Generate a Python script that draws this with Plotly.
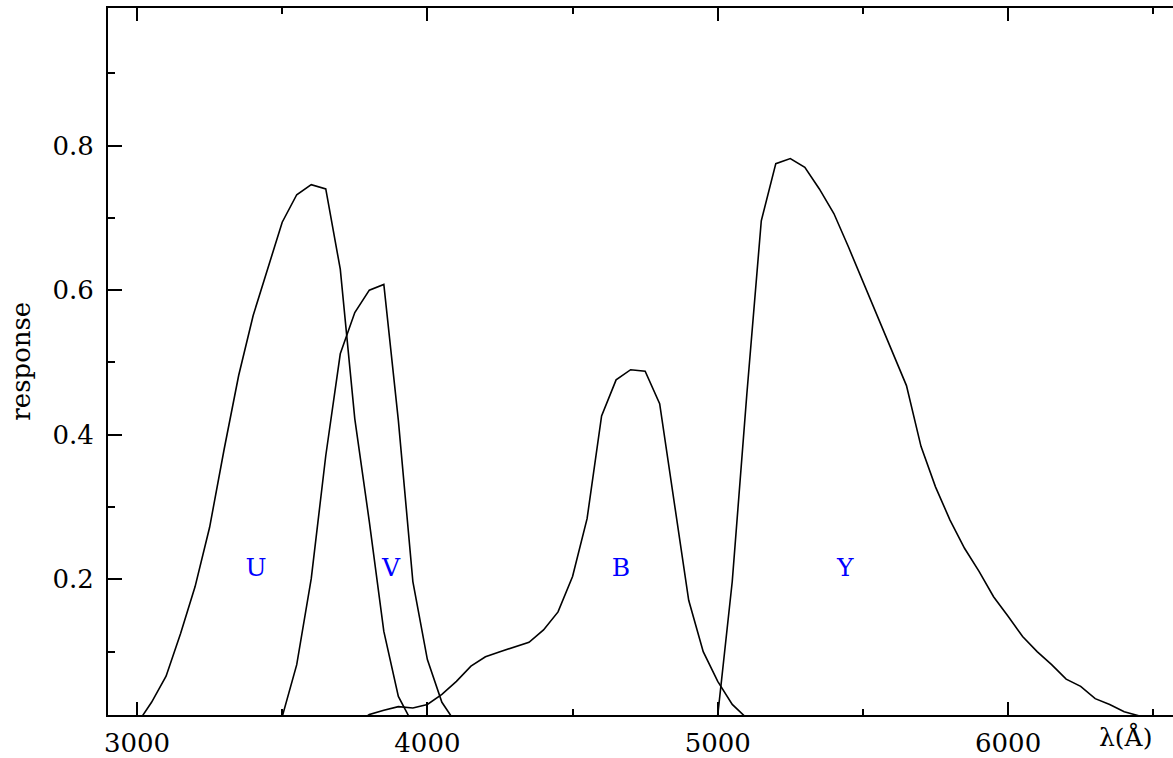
import plotly.graph_objects as go

# Filter response curves (wavelength in Angstrom, response)
wl_u = [3000, 3050, 3100, 3150, 3200, 3250, 3300, 3350, 3400, 3450,
        3500, 3550, 3600, 3650, 3700, 3750, 3800, 3850, 3900, 3950]
resp_u = [0.0, 0.03, 0.066, 0.125, 0.19, 0.272, 0.38, 0.482, 0.565, 0.63,
          0.694, 0.732, 0.746, 0.740, 0.629, 0.422, 0.280, 0.128, 0.038, 0.0]

wl_v = [3450, 3500, 3550, 3600, 3650, 3700, 3750, 3800, 3850, 3900,
        3950, 4000, 4050, 4100]
resp_v = [0.0, 0.01, 0.082, 0.201, 0.371, 0.512, 0.569, 0.600, 0.608, 0.42,
          0.197, 0.089, 0.03, 0.0]

wl_b = [3750, 3800, 3850, 3900, 3950, 4000, 4050, 4100, 4150, 4200,
        4250, 4300, 4350, 4400, 4450, 4500, 4550, 4600, 4650, 4700,
        4750, 4800, 4850, 4900, 4950, 5000, 5050, 5100, 5150]
resp_b = [0.0, 0.013, 0.019, 0.024, 0.022, 0.027, 0.041, 0.059, 0.080, 0.093,
          0.100, 0.106, 0.113, 0.130, 0.155, 0.204, 0.284, 0.426, 0.476, 0.490,
          0.488, 0.443, 0.31, 0.171, 0.100, 0.059, 0.027, 0.008, 0.0]

wl_y = [4950, 5000, 5050, 5100, 5150, 5200, 5250, 5300, 5350, 5400,
        5450, 5500, 5550, 5600, 5650, 5700, 5750, 5800, 5850, 5900,
        5950, 6000, 6050, 6100, 6150, 6200, 6250, 6300, 6350, 6400,
        6450, 6500, 6550]
resp_y = [0.0, 0.012, 0.197, 0.455, 0.696, 0.775, 0.782, 0.770, 0.740, 0.706,
          0.66, 0.612, 0.564, 0.517, 0.468, 0.384, 0.328, 0.282, 0.243, 0.211,
          0.176, 0.149, 0.121, 0.100, 0.082, 0.062, 0.052, 0.035, 0.027, 0.017,
          0.011, 0.005, 0.0]

# Band names and where their labels sit
band_names = ["U", "V", "B", "Y"]
band_label_x = [3410, 3875, 4667, 5439]
band_label_y = [0.213, 0.213, 0.213, 0.213]

x_tick_vals = [3000, 4000, 5000, 6000]
x_tick_text = ["3000", "4000", "5000", "6000"]
y_tick_vals = [0.2, 0.4, 0.6, 0.8]
y_tick_text = ["0.2", "0.4", "0.6", "0.8"]

FONT = "DejaVu Serif"
X_RANGE = [2900, 6568]
Y_RANGE = [0.0124, 0.9903]

fig = go.Figure()
for wl, resp in [(wl_u, resp_u), (wl_v, resp_v), (wl_b, resp_b), (wl_y, resp_y)]:
    fig.add_trace(go.Scatter(x=wl, y=resp, mode="lines",
                             line=dict(color="black", width=1.6),
                             showlegend=False, hoverinfo="skip"))

fig.add_trace(go.Scatter(x=band_label_x, y=band_label_y, mode="text",
                         text=band_names,
                         textfont=dict(family=FONT, size=25, color="#0000ff"),
                         showlegend=False, hoverinfo="skip"))

tick_font = dict(family=FONT, size=26, color="black")

fig.update_layout(
    xaxis=dict(
        range=X_RANGE, tickvals=x_tick_vals, ticktext=x_tick_text,
        showline=True, linecolor="black", linewidth=2, mirror="allticks",
        ticks="inside", ticklen=13, tickwidth=1.6, tickcolor="black",
        minor=dict(ticks="inside", dtick=500, tick0=0, ticklen=6,
                   tickwidth=1.6, tickcolor="black", showgrid=False),
        showgrid=False, zeroline=False, tickfont=tick_font,
        ticklabelstandoff=4,
    ),
    yaxis=dict(
        range=Y_RANGE, tickvals=y_tick_vals, ticktext=y_tick_text,
        showline=True, linecolor="black", linewidth=2, mirror=False,
        ticks="inside", ticklen=14, tickwidth=1.6, tickcolor="black",
        minor=dict(ticks="inside", dtick=0.1, tick0=0, ticklen=7,
                   tickwidth=1.6, tickcolor="black", showgrid=False),
        showgrid=False, zeroline=False, tickfont=tick_font,
        ticklabelstandoff=7,
    ),
    # right-hand tick marks, no spine line
    yaxis2=dict(
        overlaying="y", side="right", range=Y_RANGE,
        tickvals=y_tick_vals, showticklabels=False,
        showline=False, ticks="inside", ticklen=7, tickwidth=1.6,
        tickcolor="black", showgrid=False, zeroline=False,
    ),
    width=1173, height=758,
    margin=dict(l=108, r=0, t=8, b=41),
    paper_bgcolor="white", plot_bgcolor="white",
)

fig.add_annotation(text="response", xref="paper", yref="paper",
                   x=-0.082, y=(717 - 362) / 709, textangle=-90,
                   showarrow=False, xanchor="center", yanchor="middle",
                   font=dict(family=FONT, size=26, color="black"))
fig.add_annotation(text="λ(Å)", xref="x", yref="paper",
                   x=6405, y=-0.031, showarrow=False,
                   xanchor="center", yanchor="middle",
                   font=dict(family=FONT, size=25, color="black"))

fig.write_html("out.html", config={"displayModeBar": False})
